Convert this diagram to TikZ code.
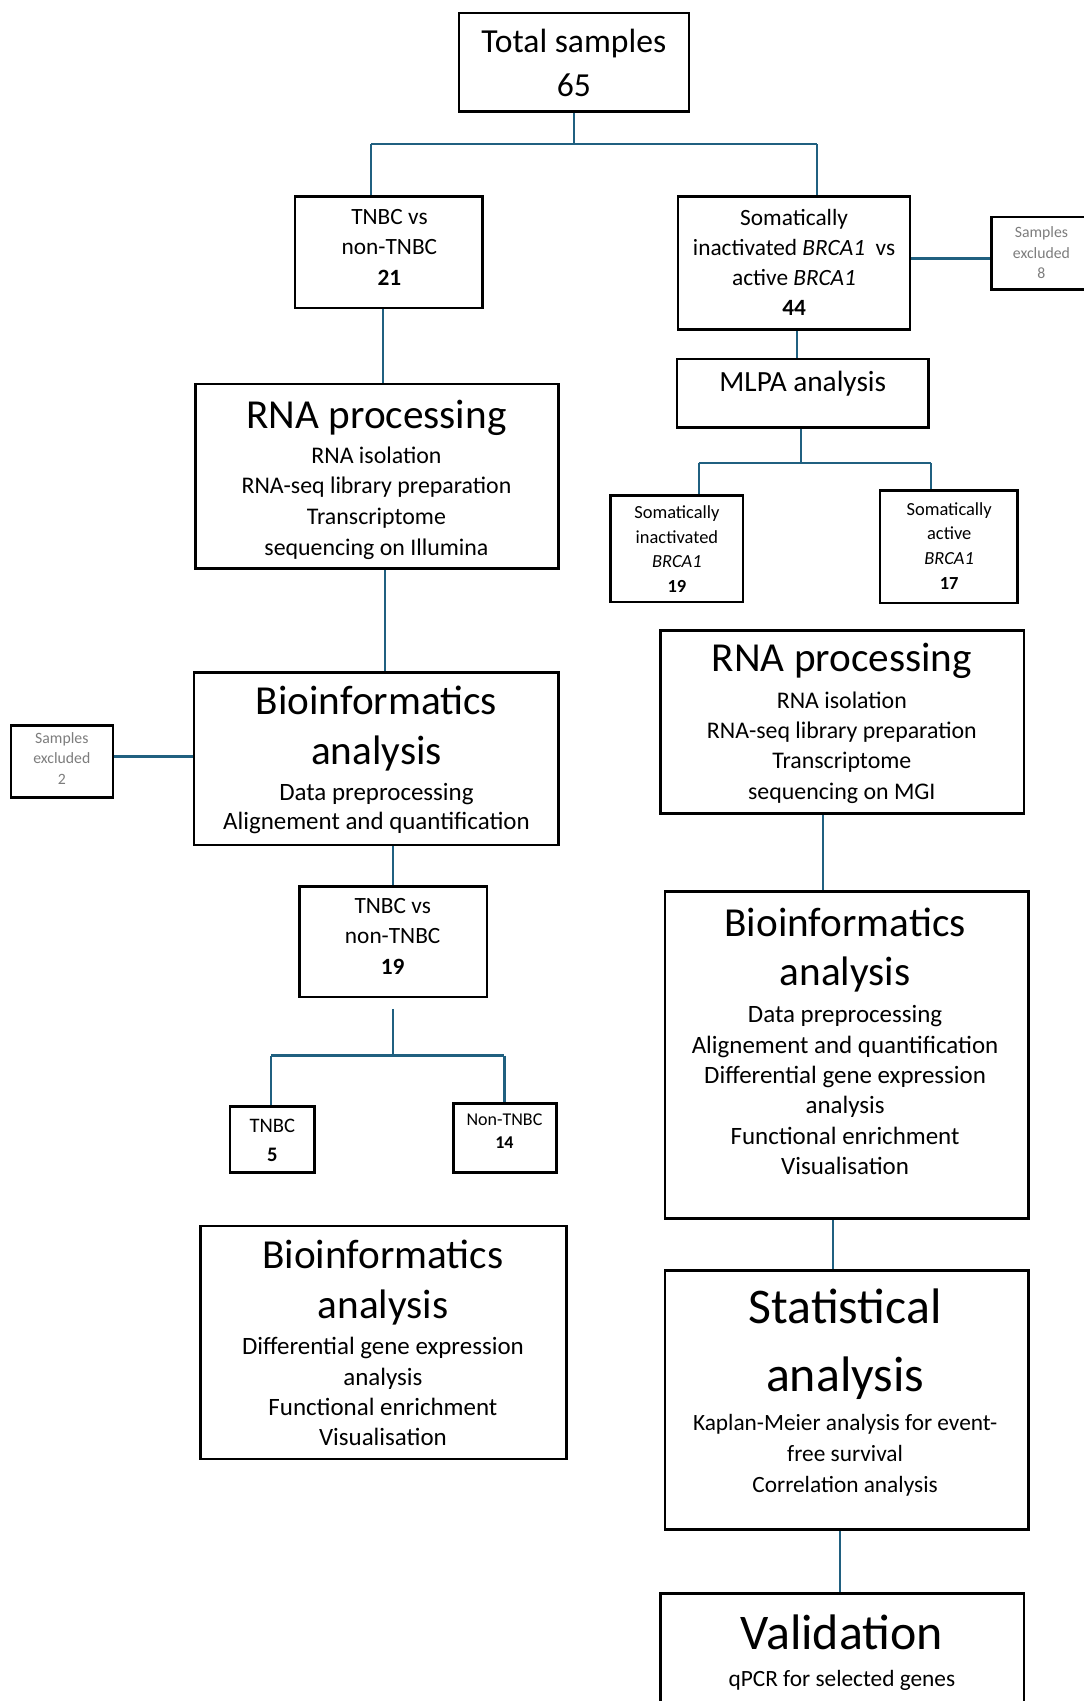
\documentclass[tikz,border=0pt]{standalone}
\usepackage{fontspec}
\setmainfont{Carlito}
\usetikzlibrary{fit,backgrounds}
\definecolor{conn}{RGB}{32,96,128}
\definecolor{exclgray}{RGB}{125,125,125}
\tikzset{
  box/.style={draw=black, line width=2.4pt, fill=white, inner sep=0pt, rectangle},
  txt/.style={inner sep=0pt, align=center},
  link/.style={draw=conn, line width=2pt},
  thicklink/.style={draw=conn, line width=3pt},
}
\newcommand{\fsz}[2]{\fontsize{#1}{#2}\selectfont}
\begin{document}
\begin{tikzpicture}[x=1pt,y=-1pt]
\useasboundingbox (0,0) rectangle (999,1568);

% ---------- boxes ----------
\node[box, fit={(423,12) (635,103)}] (total) {};
\node[box, fit={(272,181) (445,284)}] (tnbc1) {};
\node[box, fit={(625,181) (839,304)}] (soma) {};
\node[box, fit={(914,200) (1002,267)}] (excl8) {};
\node[box, fit={(624,331) (856,394)}] (mlpa) {};
\node[box, fit={(563,457) (685,555)}] (si19) {};
\node[box, fit={(811,452) (938,556)}] (sa17) {};
\node[box, fit={(180,354) (515,524)}] (rnaL) {};
\node[box, fit={(179,620) (515,779)}] (bioL) {};
\node[box, fit={(10,669) (104,735)}] (excl2) {};
\node[box, fit={(276,817) (449,919)}] (tnbc2) {};
\node[box, fit={(212,1020) (290,1081)}] (tnbc5) {};
\node[box, fit={(418,1017) (513,1081)}] (non14) {};
\node[box, fit={(185,1130) (522,1345)}] (bioL2) {};
\node[box, fit={(609,581) (944,750)}] (rnaR) {};
\node[box, fit={(613,822) (948,1123)}] (bioR) {};
\node[box, fit={(613,1171) (948,1410)}] (stat) {};
\node[box, fit={(609,1469) (944,1585)}] (valid) {};

% ---------- texts ----------
\node[txt, font=\fsz{31}{40}] (total-t) at (529,58) {Total samples\\65};
\node[txt, font=\fsz{21.5}{28}] (tnbc1-t) at (359,228) {TNBC vs\\non-TNBC\\\textbf{21}};
\node[txt, font=\fsz{21.5}{27.7}] (soma-t) at (732,241.5) {Somatically\\inactivated \textit{BRCA1}\ \ vs\\active \textit{BRCA1}\\\textbf{44}};
\node[txt, font=\fsz{14.5}{19}, text=exclgray] (excl8-t) at (960,233) {Samples\\excluded\\8};
\node[txt, font=\fsz{27}{32}] (mlpa-t) at (740,354) {MLPA analysis};
\node[txt, font=\fsz{17}{22.7}] (si19-t) at (624,506) {Somatically\\inactivated\\\textit{BRCA1}\\\textbf{19}};
\node[txt, font=\fsz{17}{22.7}] (sa17-t) at (875,503) {Somatically\\active\\\textit{BRCA1}\\\textbf{17}};

\node[txt, font=\fsz{38}{46}] (rnaL-h) at (347,385) {RNA processing};
\node[txt, font=\fsz{22}{28.3}] (rnaL-t) at (347,463.5) {RNA isolation\\RNA-seq library preparation\\Transcriptome\\sequencing on Illumina};

\node[txt, font=\fsz{38}{46}] (bioL-h) at (347,672) {Bioinformatics\\analysis};
\node[txt, font=\fsz{23}{27}] (bioL-t) at (347,745.5) {Data preprocessing\\Alignement and quantification};

\node[txt, font=\fsz{14.5}{19}, text=exclgray] (excl2-t) at (57,699) {Samples\\excluded\\2};
\node[txt, font=\fsz{21.5}{28}] (tnbc2-t) at (362,863) {TNBC vs\\non-TNBC\\\textbf{19}};
\node[txt, font=\fsz{19}{27}] (tnbc5-t) at (251,1051.5) {TNBC\\\textbf{5}};
\node[txt, font=\fsz{16.6}{21}] (non14-t) at (465,1042.5) {Non-TNBC\\\textbf{14}};

\node[txt, font=\fsz{38}{46}] (bioL2-h) at (353,1182) {Bioinformatics\\analysis};
\node[txt, font=\fsz{23}{28}] (bioL2-t) at (353,1283) {Differential gene expression\\analysis\\Functional enrichment\\Visualisation};

\node[txt, font=\fsz{38}{46}] (rnaR-h) at (776,609) {RNA processing};
\node[txt, font=\fsz{22}{28}] (rnaR-t) at (776,689) {RNA isolation\\RNA-seq library preparation\\Transcriptome\\sequencing on MGI};

\node[txt, font=\fsz{38}{45}] (bioR-h) at (779,875.5) {Bioinformatics\\analysis};
\node[txt, font=\fsz{23}{28}] (bioR-t) at (779,1005) {Data preprocessing\\Alignement and quantification\\Differential gene expression\\analysis\\Functional enrichment\\Visualisation};

\node[txt, font=\fsz{46}{62}] (stat-h) at (779,1239) {Statistical\\analysis};
\node[txt, font=\fsz{21.5}{28.5}] (stat-t) at (779,1341.5) {Kaplan-Meier analysis for event-\\free survival\\Correlation analysis};

\node[txt, font=\fsz{46}{50}] (valid-h) at (776,1505) {Validation};
\node[txt, font=\fsz{21.5}{28}] (valid-t) at (776,1549) {qPCR for selected genes};

% ---------- connector coordinates ----------
\coordinate (j1) at (529,133);
\coordinate (b1L) at (342,133);
\coordinate (b1R) at (753,133);
\coordinate (v353) at (353,0);
\coordinate (v735) at (735,0);
\coordinate (j2) at (738,427);
\coordinate (b2L) at (644,427);
\coordinate (b2R) at (858,427);
\coordinate (h238) at (0,238);
\coordinate (v355) at (355,0);
\coordinate (h697) at (0,697);
\coordinate (v362) at (362,0);
\coordinate (s3) at (362,930);
\coordinate (j3) at (362,973);
\coordinate (b3L) at (250,973);
\coordinate (b3R) at (465,973);
\coordinate (v759) at (759,0);
\coordinate (v768) at (768,0);
\coordinate (v774) at (774,0);

% ---------- connectors ----------
\begin{scope}[on background layer]
\draw[link] (total.south) -- (j1);
\draw[link] (b1L) -- (b1R);
\draw[link] (b1L) -- (b1L |- tnbc1.north);
\draw[link] (b1R) -- (b1R |- soma.north);
\draw[thicklink] (soma.east |- h238) -- (excl8.west |- h238);
\draw[link] (soma.south -| v735) -- (mlpa.north -| v735);
\draw[link] (mlpa.south -| j2) -- (j2);
\draw[link] (b2L) -- (b2R);
\draw[link] (b2L) -- (b2L |- si19.north);
\draw[link] (b2R) -- (b2R |- sa17.north);
\draw[link] (tnbc1.south -| v353) -- (rnaL.north -| v353);
\draw[link] (rnaL.south -| v355) -- (bioL.north -| v355);
\draw[thicklink] (excl2.east |- h697) -- (bioL.west |- h697);
\draw[link] (bioL.south -| v362) -- (tnbc2.north -| v362);
\draw[link] (s3) -- (j3);
\draw[link] (b3L) -- (b3R);
\draw[link] (b3L) -- (b3L |- tnbc5.north);
\draw[link] (b3R) -- (b3R |- non14.north);
\draw[link] (rnaR.south -| v759) -- (bioR.north -| v759);
\draw[link] (bioR.south -| v768) -- (stat.north -| v768);
\draw[link] (stat.south -| v774) -- (valid.north -| v774);
\end{scope}
\end{tikzpicture}
\end{document}
